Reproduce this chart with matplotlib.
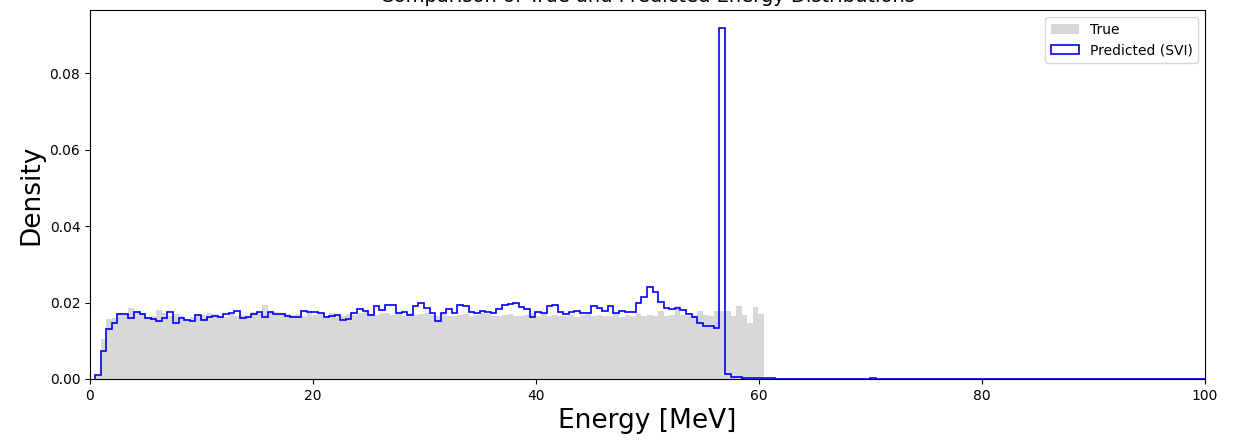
import numpy as np
import matplotlib
matplotlib.use("Agg")
import matplotlib.pyplot as plt

# ---- data (density per 0.5 MeV bin, bins start at 0.45 MeV) ----
BIN_START = 0.45
BIN_WIDTH = 0.5

true_density = [
    0.0008, 0.0104, 0.0156, 0.0160, 0.0172, 0.0168, 0.0186, 0.0178, 0.0172, 0.0162,
    0.0166, 0.0180, 0.0172, 0.0166, 0.0170, 0.0165, 0.0158, 0.0162, 0.0170, 0.0168,
    0.0172, 0.0170, 0.0166, 0.0162, 0.0170, 0.0165, 0.0168, 0.0166, 0.0176, 0.0170,
    0.0193, 0.0172, 0.0176, 0.0172, 0.0170, 0.0168, 0.0170, 0.0166, 0.0172, 0.0168,
    0.0170, 0.0165, 0.0172, 0.0168, 0.0166, 0.0170, 0.0168, 0.0172, 0.0176, 0.0170,
    0.0168, 0.0172, 0.0174, 0.0168, 0.0170, 0.0166, 0.0172, 0.0168, 0.0170, 0.0172,
    0.0168, 0.0166, 0.0170, 0.0164, 0.0166, 0.0168, 0.0170, 0.0166, 0.0168, 0.0172,
    0.0170, 0.0166, 0.0165, 0.0168, 0.0170, 0.0166, 0.0164, 0.0168, 0.0172, 0.0166,
    0.0170, 0.0165, 0.0168, 0.0166, 0.0164, 0.0168, 0.0162, 0.0168, 0.0170, 0.0166,
    0.0168, 0.0164, 0.0166, 0.0170, 0.0162, 0.0168, 0.0164, 0.0170, 0.0166, 0.0168,
    0.0166, 0.0179, 0.0166, 0.0168, 0.0190, 0.0168, 0.0166, 0.0168, 0.0178, 0.0168,
    0.0166, 0.0178, 0.0178, 0.0178, 0.0166, 0.0192, 0.0168, 0.0146, 0.0188, 0.0170,
]

pred_density = [
    0.0010, 0.0074, 0.0131, 0.0146, 0.0170, 0.0170, 0.0159, 0.0175, 0.0169, 0.0161,
    0.0156, 0.0151, 0.0161, 0.0175, 0.0146, 0.0159, 0.0154, 0.0152, 0.0168, 0.0154,
    0.0163, 0.0166, 0.0163, 0.0169, 0.0172, 0.0179, 0.0159, 0.0163, 0.0169, 0.0175,
    0.0163, 0.0175, 0.0169, 0.0169, 0.0166, 0.0163, 0.0163, 0.0179, 0.0175, 0.0176,
    0.0172, 0.0163, 0.0166, 0.0168, 0.0154, 0.0157, 0.0174, 0.0182, 0.0179, 0.0167,
    0.0190, 0.0180, 0.0195, 0.0193, 0.0172, 0.0176, 0.0167, 0.0190, 0.0200, 0.0185,
    0.0174, 0.0152, 0.0172, 0.0184, 0.0172, 0.0193, 0.0190, 0.0175, 0.0174, 0.0179,
    0.0176, 0.0172, 0.0182, 0.0193, 0.0197, 0.0200, 0.0189, 0.0184, 0.0163, 0.0176,
    0.0172, 0.0191, 0.0195, 0.0176, 0.0169, 0.0176, 0.0179, 0.0172, 0.0174, 0.0191,
    0.0187, 0.0179, 0.0190, 0.0172, 0.0179, 0.0176, 0.0175, 0.0200, 0.0215, 0.0241,
    0.0228, 0.0202, 0.0185, 0.0184, 0.0187, 0.0180, 0.0169, 0.0163, 0.0147, 0.0139,
    0.0139, 0.0133, 0.0920, 0.0012, 0.0004, 0.0005, 0.0002, 0.0002, 0.0002, 0.0002,
    0.0002, 0.0002, 0.0001,
]
# sparse far tail of the predicted distribution: bin index -> density
pred_tail = {139: 0.0003}
PRED_NBINS = 200

# ---- build bins ----
true_edges = BIN_START + BIN_WIDTH * np.arange(len(true_density) + 1)
pred_edges = BIN_START + BIN_WIDTH * np.arange(PRED_NBINS + 1)
pred_full = np.zeros(PRED_NBINS)
pred_full[:len(pred_density)] = pred_density
for idx, val in pred_tail.items():
    pred_full[idx] = val

true_centers = 0.5 * (true_edges[:-1] + true_edges[1:])
pred_centers = 0.5 * (pred_edges[:-1] + pred_edges[1:])

fig = plt.figure(figsize=(12.34, 4.41), dpi=100)
ax = fig.add_axes([90 / 1234, 1 - 379 / 441, (1205 - 90) / 1234, (379 - 10) / 441])

ax.hist(true_centers, bins=true_edges, weights=true_density, color="#d8d8d8",
        label="True")
ax.hist(pred_centers, bins=pred_edges, weights=pred_full, histtype="step",
        color="blue", linewidth=1.2, label="Predicted (SVI)")

ax.set_xlim(0, 100)
ax.set_title("Comparison of True and Predicted Energy Distributions", fontsize=14)
ax.set_xlabel("Energy [MeV]", fontsize=19)
ax.set_ylabel("Density", fontsize=19)
ax.legend(loc="upper right")

fig.savefig("out.png", dpi=100)
